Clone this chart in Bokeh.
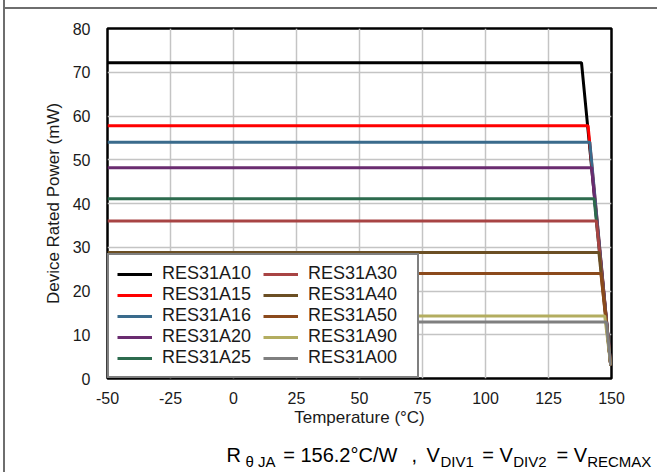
from bokeh.plotting import figure
from bokeh.layouts import row, column
from bokeh.models import (Range1d, FixedTicker, Legend, LegendItem, Spacer,
                          ColumnDataSource)
from bokeh.core.properties import value
from bokeh.embed import file_html
from bokeh.resources import INLINE

# ---- data ----
names = ["RES31A10", "RES31A15", "RES31A16", "RES31A20", "RES31A25",
         "RES31A30", "RES31A40", "RES31A50", "RES31A90", "RES31A00"]
colors = ["#000000", "#ff0000", "#3a6b8c", "#6a2c70", "#2d6b4e",
          "#a84444", "#6b4f24", "#8b4a1c", "#b3ad60", "#7f7f7f"]
plateau_mw = [72.2, 57.8, 54.0, 48.2, 41.1, 36.0, 28.8, 24.0, 14.3, 12.9]
knee_temp_c = [138.1, 140.7, 141.4, 142.1, 143.1, 144.0, 145.0, 145.8, 147.3, 148.0]
start_temp_c = -50
end_temp_c = 149.7
end_power_mw = 3.0

x_ticks = [-50, -25, 0, 25, 50, 75, 100, 125, 150]
x_tick_labels = ["-50", "-25", "0", "25", "50", "75", "100", "125", "150"]
y_ticks = [0, 10, 20, 30, 40, 50, 60, 70, 80]

FONT = "Liberation Sans"

# ---- page geometry ----
PAGE_W, PAGE_H = 657, 472
LEFT_GAP, LINE_W = 3, 2          # left cell border line
TOP_GAP, LINE_H = 7, 2           # top cell border line
CONTENT_W = PAGE_W - LEFT_GAP - LINE_W     # 652
CAP_H = 40
MAIN_H = PAGE_H - TOP_GAP - LINE_H - CAP_H  # 423

p = figure(width=CONTENT_W, height=MAIN_H,
           x_range=Range1d(-50, 150), y_range=Range1d(0, 80),
           output_backend="svg", toolbar_location=None,
           min_border_left=102, min_border_right=46,
           min_border_top=19, min_border_bottom=MAIN_H - 369)
p.frame_align = False

p.background_fill_color = "white"
p.border_fill_color = "white"
p.outline_line_color = "black"
p.outline_line_width = 2.5

# grid
p.xgrid.ticker = FixedTicker(ticks=x_ticks)
p.ygrid.ticker = FixedTicker(ticks=y_ticks)
for g in (p.xgrid, p.ygrid):
    g.grid_line_color = "#c4c4c4"
    g.grid_line_width = 1.5

# axes
p.xaxis.ticker = FixedTicker(ticks=x_ticks)
p.xaxis.major_label_overrides = {t: s for t, s in zip(x_ticks, x_tick_labels)}
p.yaxis.ticker = FixedTicker(ticks=y_ticks)
for ax in (p.xaxis, p.yaxis):
    ax.axis_line_color = None
    ax.major_tick_line_color = None
    ax.minor_tick_line_color = None
    ax.major_label_text_font = FONT
    ax.major_label_text_font_size = "16px"
    ax.major_label_text_color = "#1a1a1a"
    ax.axis_label_text_font = FONT
    ax.axis_label_text_font_size = "17px"
    ax.axis_label_text_font_style = "normal"
    ax.axis_label_text_color = "#1a1a1a"
p.xaxis.axis_label = "Temperature (°C)"
p.yaxis.axis_label = "Device Rated Power (mW)"
p.xaxis.major_label_standoff = 7
p.yaxis.major_label_standoff = 11
p.xaxis.axis_label_standoff = 1
p.yaxis.axis_label_standoff = 7

# curves
items = []
for name, col, pw, kt in zip(names, colors, plateau_mw, knee_temp_c):
    xs = [start_temp_c, kt, end_temp_c]
    ys = [pw, pw, end_power_mw]
    r = p.line(xs, ys, line_color=col, line_width=3)
    items.append(LegendItem(label=name, renderers=[r]))

legend = Legend(items=items, location=(0, 0), ncols=2, orientation="vertical",
                label_text_font=FONT, label_text_font_size="18px",
                label_text_color="#1a1a1a",
                glyph_width=35, glyph_height=20, label_height=20,
                label_standoff=10, label_width=101,
                padding=8, spacing=0, margin=0,
                border_line_color="black", border_line_width=2,
                background_fill_color="white", background_fill_alpha=1.0)
p.add_layout(legend)

# ---- caption strip (pixel coordinates, y downward) ----
cap = figure(width=CONTENT_W, height=CAP_H,
             x_range=Range1d(0, CONTENT_W), y_range=Range1d(CAP_H, 0),
             output_backend="svg", toolbar_location=None,
             x_axis_type=None, y_axis_type=None,
             min_border=0, min_border_left=0, min_border_right=0,
             min_border_top=0, min_border_bottom=0)
cap.frame_align = False
cap.outline_line_color = None
cap.grid.visible = False
cap.background_fill_color = "white"
cap.border_fill_color = "white"

X0 = LEFT_GAP + LINE_W          # page x of caption strip left
Y0 = PAGE_H - CAP_H             # page y of caption strip top
Y_FIX = -8.0                    # empirical correction of the rendered baseline
BIG_BASE, SUB_BASE = 462.5, 469.0
caption_parts = [
    ("R", 226.0, "big"),
    ("θ JA", 245.0, "sub"),
    ("= 156.2°C/W", 282.7, "big"),
    (",", 411.0, "big"),
    ("V", 426.0, "big"),
    ("DIV1", 440.0, "sub"),
    ("= V", 481.7, "big"),
    ("DIV2", 512.7, "sub"),
    ("= V", 556.0, "big"),
    ("RECMAX", 586.7, "sub"),
]
for kind, size, base in (("big", "20px", BIG_BASE), ("sub", "15px", SUB_BASE)):
    parts = [c for c in caption_parts if c[2] == kind]
    src = ColumnDataSource(dict(x=[c[1] - X0 for c in parts],
                                y=[base - Y0 + Y_FIX] * len(parts),
                                t=[c[0] for c in parts]))
    cap.text(x="x", y="y", text="t", source=src,
             text_font=value(FONT), text_font_size=value(size),
             text_color="#000000", text_baseline="alphabetic",
             text_align="left")

top_line = Spacer(width=CONTENT_W, height=LINE_H,
                  styles={"background-color": "#6e6e6e"})
left_line = Spacer(width=LINE_W, height=PAGE_H,
                   styles={"background-color": "#6e6e6e"})
layout = row(Spacer(width=LEFT_GAP, height=PAGE_H), left_line,
             column(Spacer(width=CONTENT_W, height=TOP_GAP), top_line, p, cap,
                    spacing=0),
             spacing=0)

open("out.html", "w").write(file_html(layout, INLINE))
